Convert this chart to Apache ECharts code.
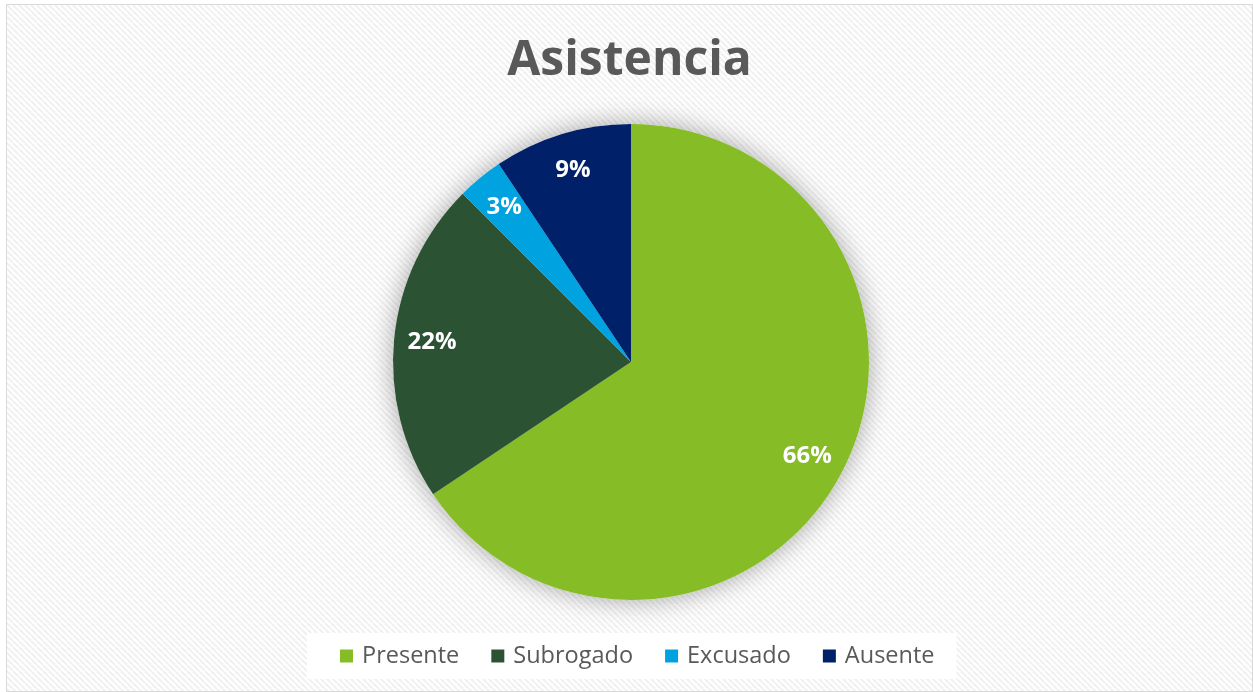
<!DOCTYPE html>
<html>
<head>
<meta charset="utf-8">
<script src="https://cdn.jsdelivr.net/npm/echarts@6/dist/echarts.min.js"></script>
<style>
  html, body { margin: 0; padding: 0; background: #fff; }
  #main { position: absolute; left: 6px; top: 4px; width: 1245px; height: 686px; border: 1px solid #d9d9d9; }
</style>
</head>
<body>
<div id="main"></div>
<script>
  // datos
  const categorias = ['Presente', 'Subrogado', 'Excusado', 'Ausente']
  const valores = [21, 7, 1, 3]
  const colores = ['#86bc25', '#2c5234', '#00a3e0', '#002169']

  // fondo rayado
  const pat = document.createElement('canvas')
  pat.width = 6
  pat.height = 6
  const ctx = pat.getContext('2d')
  ctx.fillStyle = '#ffffff'
  ctx.fillRect(0, 0, 6, 6)
  ctx.strokeStyle = '#f0f0f0'
  ctx.lineWidth = 2
  for (let k = -6; k <= 12; k += 6) {
    ctx.beginPath()
    ctx.moveTo(k, 0)
    ctx.lineTo(k + 6, 6)
    ctx.stroke()
  }

  const datos = categorias.map((n, i) => ({ name: n, value: valores[i], itemStyle: { color: colores[i] } }))
  const centro = [624, 357]
  const radio = 238

  const chart = echarts.init(document.getElementById('main'))
  chart.setOption({
    backgroundColor: { image: pat, repeat: 'repeat' },
    title: {
      text: 'Asistencia',
      left: 'center',
      top: 27,
      textStyle: { fontFamily: 'Open Sans', fontSize: 48, fontWeight: 'bold', color: '#595959' }
    },
    legend: {
      data: categorias,
      bottom: 12,
      left: 300,
      itemWidth: 13,
      itemHeight: 13,
      itemGap: 32,
      padding: [11, 22, 11, 33],
      backgroundColor: '#ffffff',
      icon: 'rect',
      textStyle: { fontFamily: 'Open Sans', fontSize: 23.5, color: '#595959', padding: [0, 0, 0, 4] }
    },
    series: [
      {
        // sombra
        type: 'pie',
        center: centro,
        radius: radio,
        startAngle: 90,
        silent: true,
        z: 1,
        label: { show: false },
        labelLine: { show: false },
        itemStyle: { color: '#ffffff', shadowBlur: 26, shadowColor: 'rgba(0,0,0,0.35)' },
        data: categorias.map((n, i) => ({ name: n + ' ', value: valores[i] }))
      },
      {
        type: 'pie',
        center: centro,
        radius: radio,
        startAngle: 90,
        clockwise: true,
        z: 2,
        label: { show: false },
        labelLine: { show: false },
        itemStyle: { borderWidth: 0 },
        data: datos
      },
      {
        // etiquetas
        type: 'pie',
        center: centro,
        radius: [156, radio],
        startAngle: 90,
        silent: true,
        z: 3,
        itemStyle: { color: 'transparent' },
        label: {
          position: 'inside',
          formatter: p => Math.round(p.percent) + '%',
          fontFamily: 'Open Sans',
          fontSize: 24,
          fontWeight: 'bold',
          color: '#ffffff'
        },
        labelLine: { show: false },
        data: categorias.map((n, i) => ({ name: n + '  ', value: valores[i] }))
      }
    ]
  })
</script>
</body>
</html>
